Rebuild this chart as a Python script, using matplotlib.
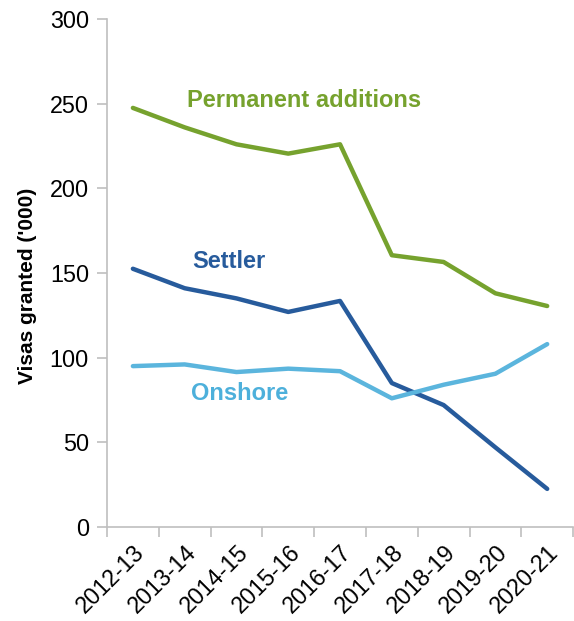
import numpy as np
import matplotlib.pyplot as plt

years = ["2012-13", "2013-14", "2014-15", "2015-16", "2016-17",
         "2017-18", "2018-19", "2019-20", "2020-21"]
permanent = [247.5, 236, 226, 220.5, 226, 160.5, 156.5, 138, 130.5]
settler = [152.5, 141, 135, 127, 133.5, 85, 72, 47, 22.5]
onshore = [95, 96, 91.5, 93.5, 92, 76, 84, 90.5, 108]

plt.rcParams['font.family'] = ['Liberation Sans', 'DejaVu Sans']

fig = plt.figure(figsize=(5.74, 6.21), dpi=100)
ax = fig.add_axes([0.1864, 0.1514, 0.812, 0.818])

x = np.arange(len(years))
green = "#76A22E"
dark_blue = "#275B9C"
light_blue = "#5BB5DD"

ax.plot(x, permanent, color=green, lw=3.2, solid_capstyle="round")
ax.plot(x, settler, color=dark_blue, lw=3.2, solid_capstyle="round")
ax.plot(x, onshore, color=light_blue, lw=3.2, solid_capstyle="round")

# Rótulos das séries
ax.text(1.04, 252, "Permanent additions", color=green, fontsize=17, fontweight="bold", va="center")
ax.text(1.15, 156.5, "Settler", color=dark_blue, fontsize=17, fontweight="bold", va="center")
ax.text(1.12, 79, "Onshore", color="#4DB0DB", fontsize=17, fontweight="bold", va="center")

ax.set_xlim(-0.5, len(years) - 0.5)
ax.set_ylim(0, 300)
ax.set_yticks(np.arange(0, 301, 50))
ax.set_xticks(x)
ax.set_xticklabels(years, rotation=45, ha="right", rotation_mode="anchor", fontsize=16.8)
ax.set_xticks(np.arange(-0.5, len(years) - 0.4, 1), minor=True)
ax.tick_params(axis="x", which="major", length=0, pad=10)
ax.tick_params(axis="x", which="minor", length=7, color="#BFBFBF", width=1.2)
ax.tick_params(axis="y", length=7, color="#BFBFBF", width=1.2, labelsize=16.8, pad=6)

ax.set_ylabel("Visas granted ('000)", fontsize=15, fontweight="bold")
ax.yaxis.set_label_coords(-0.15, 0.474)

for direction in ["top", "right"]:
    ax.spines[direction].set_visible(False)
for direction in ["left", "bottom"]:
    ax.spines[direction].set_color("#BFBFBF")
    ax.spines[direction].set_linewidth(1.2)

fig.savefig("out.png", dpi=100)
